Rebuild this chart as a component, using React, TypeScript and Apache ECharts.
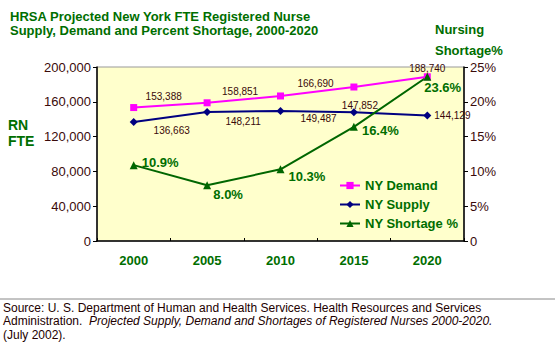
import React, { useEffect, useRef } from "react";
import * as echarts from "echarts";

const years = ["2000", "2005", "2010", "2015", "2020"];
const demand = [153388, 158851, 166690, 177000, 188740];
const supply = [136663, 148211, 149487, 147852, 144129];
const shortage = [10.9, 8.0, 10.3, 16.4, 23.6];
const demandLabelShown = [true, true, true, false, true];

const GREEN = "#006e00";
const BROWN = "#3a0a0a";

const fmt = (v: number) => v.toLocaleString("en-US");

export default function App() {
  const ref = useRef<HTMLDivElement>(null);
  useEffect(() => {
    document.body.style.margin = "0";
    const chart = echarts.init(ref.current!, undefined, { renderer: "svg" });
    const demandOffsets = [[30, 2], [33, 2], [35, 1], [0, 0], [0, 5]];
    const supplyOffsets: any[] = [
      { position: "bottom", offset: [38, -6] },
      { position: "bottom", offset: [36, -5] },
      { position: "bottom", offset: [38, -6] },
      { position: "top", offset: [6, 7] },
      { position: "right", offset: [-2, 0] },
    ];
    const shortLabels: any[] = [
      { position: "right", offset: [0, -3] },
      { position: "bottom", offset: [21, -5] },
      { position: "right", offset: [0, 7] },
      { position: "right", offset: [0, 4] },
      { position: "right", offset: [-11, 11] },
    ];
    chart.setOption({
      animation: false,
      backgroundColor: "#ffffff",
      textStyle: { fontFamily: "Arial, 'Liberation Sans', sans-serif" },
      grid: { left: 97, right: 91, top: 67, bottom: 102, show: true, backgroundColor: "#ffffcc", borderColor: "#999999", borderWidth: 1 },
      legend: {
        orient: "vertical",
        left: 334,
        top: 174,
        itemWidth: 20,
        itemHeight: 9,
        itemGap: 6,
        textStyle: { color: GREEN, fontWeight: "bold", fontSize: 13, fontFamily: "Arial, 'Liberation Sans', sans-serif" },
        data: ["NY Demand", "NY Supply", "NY Shortage %"],
      },
      xAxis: {
        type: "category",
        data: years,
        boundaryGap: true,
        axisLine: { lineStyle: { color: "#000000", width: 1.5 } },
        axisTick: { show: true, inside: true, length: 3, lineStyle: { color: "#000" }, interval: 0 },
        axisLabel: { color: GREEN, fontWeight: "bold", fontSize: 13, margin: 13, fontFamily: "Arial, 'Liberation Sans', sans-serif" },
      },
      yAxis: [
        {
          type: "value",
          min: 0,
          max: 200000,
          interval: 40000,
          splitLine: { show: false },
          axisLine: { show: true, lineStyle: { color: "#000000", width: 1.5 } },
          axisTick: { show: true, length: 4, lineStyle: { color: "#000" } },
          axisLabel: { color: BROWN, fontSize: 13, margin: 6, formatter: (v: number) => fmt(v), fontFamily: "Arial, 'Liberation Sans', sans-serif" },
        },
        {
          type: "value",
          min: 0,
          max: 25,
          interval: 5,
          splitLine: { show: false },
          axisLine: { show: true, lineStyle: { color: "#000000", width: 1.5 } },
          axisTick: { show: true, length: 4, lineStyle: { color: "#000" } },
          axisLabel: { color: BROWN, fontSize: 13, margin: 6, formatter: (v: number) => (v === 0 ? "0" : v + "%"), fontFamily: "Arial, 'Liberation Sans', sans-serif" },
        },
      ],
      series: [
        {
          name: "NY Demand",
          type: "line",
          yAxisIndex: 0,
          data: demand.map((v, i) => ({
            value: v,
            label: { show: demandLabelShown[i], offset: demandOffsets[i] },
          })),
          color: "#ff00ff",
          symbol: "rect",
          symbolSize: 7,
          lineStyle: { width: 2, color: "#ff00ff" },
          label: { show: true, position: "top", color: BROWN, fontSize: 10, formatter: (p: any) => fmt(p.value) },
        },
        {
          name: "NY Supply",
          type: "line",
          yAxisIndex: 0,
          data: supply.map((v, i) => ({ value: v, label: { show: true, ...supplyOffsets[i] } })),
          color: "#000080",
          symbol: "diamond",
          symbolSize: 8,
          lineStyle: { width: 2, color: "#000080" },
          label: { show: true, color: BROWN, fontSize: 10, formatter: (p: any) => fmt(p.value) },
        },
        {
          name: "NY Shortage %",
          type: "line",
          yAxisIndex: 1,
          data: shortage.map((v, i) => ({ value: v, label: shortLabels[i] })),
          color: "#006600",
          symbol: "triangle",
          symbolSize: 8,
          lineStyle: { width: 2, color: "#006600" },
          label: { show: true, position: "right", distance: 4, color: GREEN, fontWeight: "bold", fontSize: 13, formatter: (p: any) => p.value.toFixed(1) + "%" },
        },
      ],
      graphic: [
        { type: "text", left: 10, top: 9, style: { text: "HRSA Projected New York FTE Registered Nurse\nSupply, Demand and Percent Shortage, 2000-2020", fill: GREEN, font: "bold 13px Arial", lineHeight: 14 } },
        { type: "text", left: 435, top: 19, style: { text: "Nursing\nShortage%", fill: GREEN, font: "bold 13px Arial", lineHeight: 21 } },
        { type: "text", left: 8, top: 117, style: { text: "RN\nFTE", fill: GREEN, font: "bold 14px Arial", lineHeight: 16 } },
        { type: "line", shape: { x1: 0, y1: 299, x2: 555, y2: 299 }, style: { stroke: "#888888", lineWidth: 1 } },
        {
          type: "text",
          left: 3,
          top: 301,
          style: {
            text: "Source: U. S. Department of Human and Health Services. Health Resources and Services\nAdministration.  {i|Projected Supply, Demand and Shortages of Registered Nurses 2000-2020.}\n(July 2002).",
            fill: "#220000",
            font: "12px Arial",
            lineHeight: 13.5,
            rich: { i: { fontStyle: "italic", fontSize: 12, fontFamily: "Arial", fill: "#220000", lineHeight: 13.5 } },
          },
        },
      ],
    });
    return () => chart.dispose();
  }, []);
  return <div ref={ref} style={{ width: 555, height: 343 }} />;
}
